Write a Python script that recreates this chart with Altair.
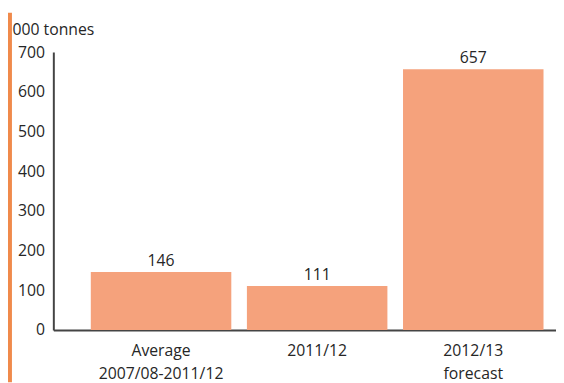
import altair as alt
import pandas as pd

categories = ["Average|2007/08-2011/12", "2011/12", "2012/13|forecast"]
values = [146, 111, 657]
y_ticks = [0, 100, 200, 300, 400, 500, 600, 700]

df = pd.DataFrame({"cat": categories, "val": values})

FONT = "Open Sans"
BAR = "#F5A27C"
TXT = "#262626"
FS = 16

x = alt.X(
    "cat:N", sort=None,
    scale=alt.Scale(paddingInner=0.1, paddingOuter=0.16, align=0.75),
    axis=alt.Axis(
        title=None, labelAngle=0, ticks=False, domainColor="#444", domainWidth=2,
        labelExpr="split(datum.value, '|')", labelFont=FONT, labelFontSize=FS,
        labelColor=TXT, labelPadding=13, labelLineHeight=23,
    ),
)
y = alt.Y(
    "val:Q",
    scale=alt.Scale(domain=[0, 700], nice=False),
    axis=alt.Axis(
        values=y_ticks, grid=False, ticks=False, domainColor="#444", domainWidth=2,
        labelFont=FONT, labelFontSize=FS, labelColor=TXT, labelPadding=9,
        title="000 tonnes", titleAngle=0, titleAlign="left", titleBaseline="alphabetic",
        titleX=-42, titleY=-18, titleFont=FONT, titleFontSize=FS,
        titleFontWeight="normal", titleColor=TXT,
    ),
)

base = alt.Chart(df)
bars = base.mark_bar(color=BAR).encode(x=x, y=y)
labels = base.mark_text(
    baseline="bottom", dy=-3, font=FONT, fontSize=FS, color=TXT
).encode(x=x, y=y, text="val:Q")

strip = alt.Chart(alt.Data(values=[{"a": 1}])).mark_rule(
    color="#F08A4B", strokeWidth=4
).encode(x=alt.value(-44), y=alt.value(-40), y2=alt.value(335))

chart = alt.layer(strip, bars, labels).properties(
    width=510, height=282,
    padding={"left": 0, "top": 0, "right": 0, "bottom": 0},
).configure_view(stroke=None)

chart.save("out.html", embed_options={"renderer": "svg", "actions": False})
